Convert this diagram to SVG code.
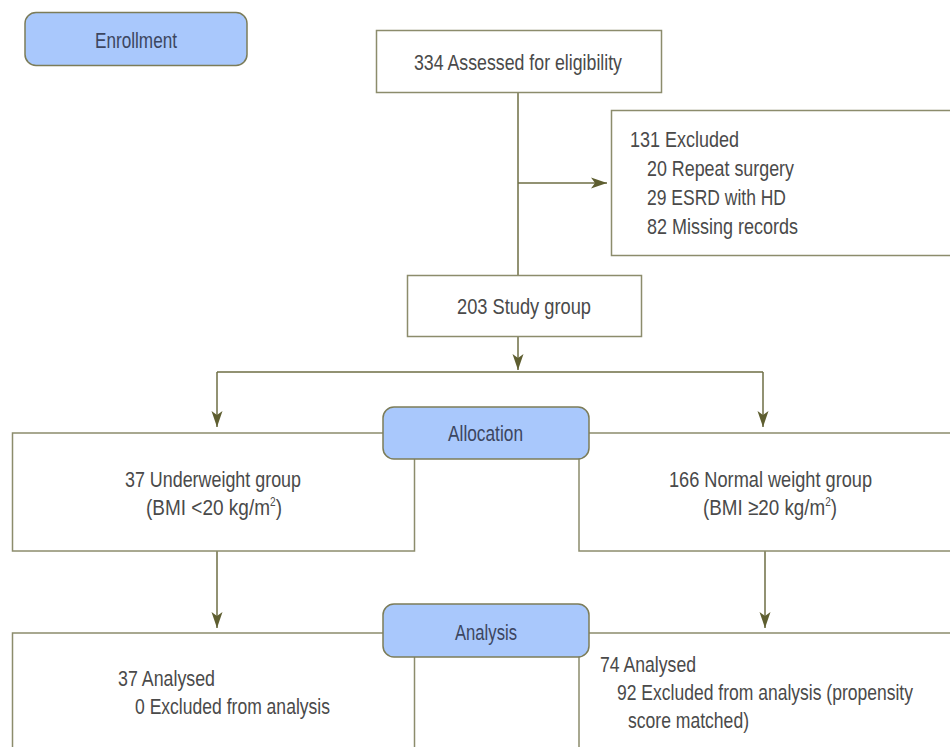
<svg xmlns="http://www.w3.org/2000/svg" width="950" height="747" viewBox="0 0 950 747">
<defs>
<style>
.box{fill:#ffffff;stroke:#8c8c6c;stroke-width:1.5}
.stage{fill:#a9c8fc;stroke:#7c7c58;stroke-width:1.5}
.t{font-family:"Liberation Sans",Arial,sans-serif;font-size:22.5px;fill:#4a4a4a}
.st{font-family:"Liberation Sans",Arial,sans-serif;font-size:22.5px;fill:#3c4660}
.sup{font-size:12px}
.c{fill:none;stroke:#6e6e44;stroke-width:1.5}
</style>
<marker id="ah" markerUnits="userSpaceOnUse" markerWidth="16" markerHeight="12" refX="16" refY="6" orient="auto">
<path d="M0,0.5 L16,6 L0,11.5 L4,6 z" fill="#5e5e30"/>
</marker>
</defs>
<rect width="950" height="747" fill="#ffffff"/>

<g id="connectors">
<line class="c" x1="518" y1="92" x2="518" y2="275"/>
<line class="c" x1="518" y1="183" x2="607" y2="183" marker-end="url(#ah)"/>
<line class="c" x1="518" y1="336" x2="518" y2="370" marker-end="url(#ah)"/>
<line class="c" x1="217" y1="372" x2="763" y2="372"/>
<line class="c" x1="217" y1="372" x2="217" y2="427" marker-end="url(#ah)"/>
<line class="c" x1="763" y1="372" x2="763" y2="427" marker-end="url(#ah)"/>
<line class="c" x1="217" y1="551" x2="217" y2="628" marker-end="url(#ah)"/>
<line class="c" x1="765" y1="551" x2="765" y2="628" marker-end="url(#ah)"/>
</g>

<g id="enrollment">
<rect class="stage" x="25" y="12.5" width="222" height="53" rx="11"/>
<text class="st" x="95" y="48" textLength="82" lengthAdjust="spacingAndGlyphs">Enrollment</text>
</g>

<g id="assessed">
<rect class="box" x="376.5" y="30.5" width="285" height="62"/>
<text class="t" x="414" y="70" textLength="208" lengthAdjust="spacingAndGlyphs">334 Assessed for eligibility</text>
</g>

<g id="excluded">
<rect class="box" x="611.5" y="110.5" width="345" height="145"/>
<text class="t" x="630" y="147" textLength="109" lengthAdjust="spacingAndGlyphs">131 Excluded</text>
<text class="t" x="647" y="176" textLength="147" lengthAdjust="spacingAndGlyphs">20 Repeat surgery</text>
<text class="t" x="647" y="205" textLength="139" lengthAdjust="spacingAndGlyphs">29 ESRD with HD</text>
<text class="t" x="647" y="234" textLength="151" lengthAdjust="spacingAndGlyphs">82 Missing records</text>
</g>

<g id="study">
<rect class="box" x="407.5" y="275.5" width="234" height="61"/>
<text class="t" x="457" y="314" textLength="134" lengthAdjust="spacingAndGlyphs">203 Study group</text>
</g>

<g id="underweight">
<rect class="box" x="12.5" y="433" width="402" height="118"/>
<text class="t" x="125" y="487" textLength="176" lengthAdjust="spacingAndGlyphs">37 Underweight group</text>
<text class="t" x="146" y="515" textLength="136" lengthAdjust="spacingAndGlyphs">(BMI &lt;20 kg/m<tspan class="sup" dy="-9">2</tspan><tspan dy="9">)</tspan></text>
</g>

<g id="normal">
<rect class="box" x="579" y="433" width="380" height="118"/>
<text class="t" x="669" y="487" textLength="203" lengthAdjust="spacingAndGlyphs">166 Normal weight group</text>
<text class="t" x="703" y="515" textLength="134" lengthAdjust="spacingAndGlyphs">(BMI ≥20 kg/m<tspan class="sup" dy="-9">2</tspan><tspan dy="9">)</tspan></text>
</g>

<g id="allocation">
<rect class="stage" x="383" y="407" width="206" height="52" rx="11"/>
<text class="st" x="448" y="441" textLength="75" lengthAdjust="spacingAndGlyphs">Allocation</text>
</g>

<g id="analysed-left">
<rect class="box" x="12.5" y="633" width="402" height="130"/>
<text class="t" x="118" y="686" textLength="97" lengthAdjust="spacingAndGlyphs">37 Analysed</text>
<text class="t" x="135" y="714" textLength="195" lengthAdjust="spacingAndGlyphs">0 Excluded from analysis</text>
</g>

<g id="analysed-right">
<rect class="box" x="579" y="633" width="380" height="130"/>
<text class="t" x="600" y="672" textLength="96" lengthAdjust="spacingAndGlyphs">74 Analysed</text>
<text class="t" x="617" y="700" textLength="296" lengthAdjust="spacingAndGlyphs">92 Excluded from analysis (propensity</text>
<text class="t" x="628" y="728" textLength="121" lengthAdjust="spacingAndGlyphs">score matched)</text>
</g>

<g id="analysis">
<rect class="stage" x="383" y="604" width="206" height="53" rx="11"/>
<text class="st" x="455" y="640" textLength="62" lengthAdjust="spacingAndGlyphs">Analysis</text>
</g>
</svg>
